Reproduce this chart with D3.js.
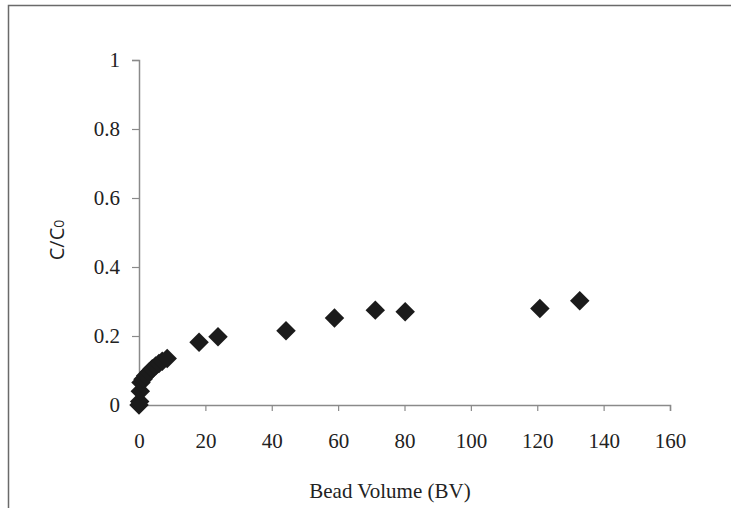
<!DOCTYPE html>
<html>
<head>
<meta charset="utf-8">
<script src="https://cdn.jsdelivr.net/npm/d3@7"></script>
<style>
  html, body { margin: 0; padding: 0; background: #fff; }
  svg { display: block; }
</style>
</head>
<body>
<svg id="chart" width="731" height="508"></svg>
<script>
// Breakthrough data: bed volumes passed vs. normalised outlet concentration
const bedVolumes = [0, 0.2, 0.4, 0.6, 1.2, 2, 3, 4, 5, 6, 7, 8.5, 18.1, 23.8, 44.3, 58.9, 71.2, 80.2, 120.8, 132.8];
const concRatio  = [0, 0.01, 0.04, 0.065, 0.075, 0.085, 0.095, 0.105, 0.113, 0.12, 0.127, 0.135, 0.182, 0.198, 0.215, 0.252, 0.275, 0.270, 0.280, 0.302];
const xTicks = [0, 20, 40, 60, 80, 100, 120, 140, 160];
const yTicks = [0, 0.2, 0.4, 0.6, 0.8, 1];
const xTitle = "Bead Volume (BV)";

const svg = d3.select("#chart");
const serif = "'Liberation Serif', 'Times New Roman', serif";

// Outer frame (top and left edges)
svg.append("path")
  .attr("d", "M8.5,508 V5.5 H731")
  .attr("fill", "none").attr("stroke", "#6a6a6a").attr("stroke-width", 1.5);

const plot = { left: 139, right: 670, top: 60, bottom: 405 };
const x = d3.scaleLinear().domain([0, 160]).range([plot.left, plot.right]);
const y = d3.scaleLinear().domain([0, 1]).range([plot.bottom, plot.top]);

const axisColor = "#8a8a8a";

const xAxis = svg.append("g")
  .attr("transform", `translate(0,${plot.bottom})`)
  .call(d3.axisBottom(x).tickValues(xTicks).tickSize(6).tickSizeOuter(6).tickPadding(22)
        .tickFormat(d3.format("d")));
const yAxis = svg.append("g")
  .attr("transform", `translate(${plot.left},0)`)
  .call(d3.axisLeft(y).tickValues(yTicks).tickSize(7).tickSizeOuter(7).tickPadding(12)
        .tickFormat(d => d === 0 || d === 1 ? String(d) : d3.format(".1f")(d)));

[xAxis, yAxis].forEach(g => {
  g.select(".domain").attr("stroke", axisColor).attr("stroke-width", 1.5);
  g.selectAll(".tick line").attr("stroke", axisColor).attr("stroke-width", 1.2);
  g.selectAll(".tick text")
    .attr("fill", "#222").style("font-family", serif).style("font-size", "21px");
});

// Axis titles
svg.append("text")
  .attr("x", 390).attr("y", 498)
  .attr("text-anchor", "middle")
  .style("font-family", serif).style("font-size", "21px").attr("fill", "#222")
  .text(xTitle);

const yTitle = svg.append("text")
  .attr("transform", "translate(64,240) rotate(-90)")
  .attr("text-anchor", "middle")
  .style("font-family", "'Open Sans', 'DejaVu Sans', sans-serif").style("font-size", "20px").attr("fill", "#222");
yTitle.append("tspan").text("C/C");
yTitle.append("tspan").style("font-size", "14px").text("0");

// Diamond markers
const diamond = d3.symbol().type(d3.symbolSquare).size(190);
svg.append("g").selectAll("path")
  .data(bedVolumes.map((bv, i) => [bv, concRatio[i]]))
  .join("path")
  .attr("d", diamond)
  .attr("transform", d => `translate(${x(d[0])},${y(d[1])}) rotate(45)`)
  .attr("fill", "#1b1b1b");
</script>
</body>
</html>
